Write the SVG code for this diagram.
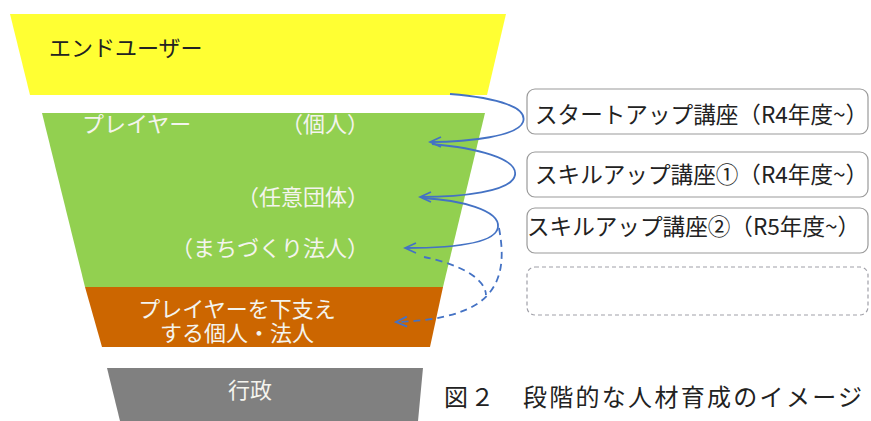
<svg xmlns="http://www.w3.org/2000/svg" width="871" height="421" viewBox="0 0 871 421">
<style>
  .jp { font-family: "Noto Sans CJK JP", "Noto Sans", sans-serif; font-size: 22px; }
  .bt { font-size: 22.6px; }
  .dark { fill: #222222; }
  .light { fill: #F4F4EE; }
  .box { fill: #FFFFFF; stroke: #9A9A9A; stroke-width: 1.2; }
  .dbox { fill: #FFFFFF; stroke: #A0A0A8; stroke-width: 1.2; stroke-dasharray: 4 3; }
  .arr { fill: none; stroke: #4472C4; stroke-width: 1.8; }
  .dash { stroke-dasharray: 7 5; }
  .cap { font-family: "Noto Sans CJK JP", serif; font-size: 24px; fill: #222222; letter-spacing: 2.3px; }
</style>
<defs>
  <marker id="ah" viewBox="-12 -7 14 14" refX="0" refY="0" markerWidth="14" markerHeight="14" markerUnits="userSpaceOnUse" orient="auto">
    <path d="M-11,-5 L0,0 L-11,5" fill="none" stroke="#4472C4" stroke-width="1.8"/>
  </marker>
</defs>
<rect width="871" height="421" fill="#FFFFFF"/>

<g id="enduser">
  <polygon points="10,14 506,14 487,95 30,95" fill="#FFFF33"/>
  <text class="jp dark" x="49" y="56">エンドユーザー</text>
</g>

<g id="player">
  <polygon points="42,113 485,113 443,287 85,287" fill="#92D050"/>
  <text class="jp light" x="82" y="132">プレイヤー</text>
  <text class="jp light" x="369" y="132" text-anchor="end">（個人）</text>
  <text class="jp light" x="369" y="205" text-anchor="end">（任意団体）</text>
  <text class="jp light" x="369" y="256" text-anchor="end">（まちづくり法人）</text>
</g>

<g id="support">
  <polygon points="85,287 443,287 430,347 102,347" fill="#CC6600"/>
  <text class="jp light" text-anchor="middle"><tspan x="237" y="317">プレイヤーを下支え</tspan><tspan x="237" y="341">する個人・法人</tspan></text>
</g>

<g id="gyosei">
  <polygon points="107,368 423,368 418,421 120,421" fill="#808080"/>
  <text class="jp light" x="250" y="398" text-anchor="middle">行政</text>
</g>

<g id="course1">
  <rect class="box" x="527" y="89" width="341" height="45" rx="8"/>
  <text class="jp bt dark" x="535" y="123">スタートアップ講座（R4年度~）</text>
</g>
<g id="course2">
  <rect class="box" x="527" y="152" width="341" height="45" rx="8"/>
  <text class="jp bt dark" x="535" y="183">スキルアップ講座①（R4年度~）</text>
</g>
<g id="course3">
  <rect class="box" x="527" y="208" width="341" height="45" rx="8"/>
  <text class="jp bt dark" x="527" y="235">スキルアップ講座②（R5年度~）</text>
</g>
<g id="course4">
  <rect class="dbox" x="527" y="267" width="341" height="48" rx="8"/>
</g>

<g id="connectors">
  <path class="arr" d="M450,94 C500,98 528,108 523,122 C518,136 470,142 430,142" marker-end="url(#ah)"/>
  <path class="arr" d="M432,144 C475,148 518,158 515,175 C512,192 460,197 420,197" marker-end="url(#ah)"/>
  <path class="arr" d="M422,198 C460,200 500,210 498,227 C496,244 450,248 405,248" marker-end="url(#ah)"/>
  <path class="arr dash" d="M424,257 C450,262 485,275 486,295"/>
  <path class="arr dash" d="M499,228 C505,260 502,285 480,302 C460,316 430,321 396,322" marker-end="url(#ah)"/>
</g>

<g id="caption">
  <text class="cap" x="444" y="406">図２　段階的な人材育成のイメージ</text>
</g>
</svg>
